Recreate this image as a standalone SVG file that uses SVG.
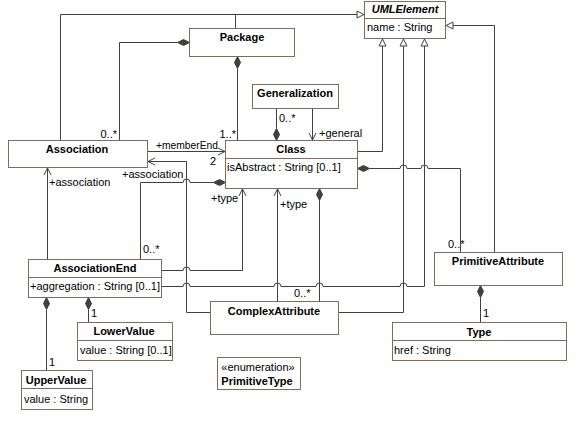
<svg xmlns="http://www.w3.org/2000/svg" width="580" height="430" viewBox="0 0 580 430">
<style>
.box{fill:#fff;stroke:#806c5a;stroke-width:1}
.div{stroke:#806c5a;stroke-width:1}
.t{font-family:"Liberation Sans",Arial,sans-serif;font-size:11px;fill:#000}
.b{font-weight:bold}
.c{text-anchor:middle}
.ln{fill:none;stroke:#404040;stroke-width:1}
.tri{fill:#fff;stroke:#404040;stroke-width:1}
.dia{fill:#404040;stroke:#404040;stroke-width:1}
.arr{fill:none;stroke:#404040;stroke-width:1}
</style>
<rect width="580" height="430" fill="#fff"/>
<g id="connectors">
  <path class="ln" d="M60.5,140.5 V14.5 H357"/>
  <path class="ln" d="M235.5,28.5 V14.5"/>
  <polygon class="tri" points="364,14.5 357,11 357,18"/>
  <path class="ln" d="M357.5,151.5 H382.5 V46"/>
  <polygon class="tri" points="382.5,39 379,46 386,46"/>
  <path class="ln" d="M338.5,312.5 H403.5 V46"/>
  <polygon class="tri" points="403.5,39 400,46 407,46"/>
  <path class="ln" d="M161.5,286.5 H183 a3.5,3.5 0 0 1 7,0 H274 a3.5,3.5 0 0 1 7,0 H316 a3.5,3.5 0 0 1 7,0 H400 a3.5,3.5 0 0 1 7,0 H424.5 V46"/>
  <polygon class="tri" points="424.5,39 421,46 428,46"/>
  <path class="ln" d="M494.5,252.5 V25.5 H453"/>
  <polygon class="tri" points="446,25.5 453,22 453,29"/>
  <path class="ln" d="M177.5,42.5 H119.5 V140.5"/>
  <polygon class="dia" points="189.5,42.5 183.5,39.5 177.5,42.5 183.5,45.5"/>
  <path class="ln" d="M237.5,68.5 V140.5"/>
  <polygon class="dia" points="237.5,56.5 234.5,62.5 237.5,68.5 240.5,62.5"/>
  <path class="ln" d="M276.5,108.5 V128.5"/>
  <polygon class="dia" points="276.5,140.5 273.5,134.5 276.5,128.5 279.5,134.5"/>
  <path class="ln" d="M312.5,108.5 V140"/>
  <polyline class="arr" points="309,133 312.5,140 316,133"/>
  <path class="ln" d="M369.5,168.5 H400 a3.5,3.5 0 0 1 7,0 H421 a3.5,3.5 0 0 1 7,0 H460.5 V252.5"/>
  <polygon class="dia" points="357.5,168.5 363.5,165.5 369.5,168.5 363.5,171.5"/>
  <path class="ln" d="M147.5,151.5 H225"/>
  <polyline class="arr" points="218,148 225,151.5 218,155"/>
  <path class="ln" d="M210.5,312.5 H186.5 V161.5 H148"/>
  <polyline class="arr" points="155,158 148,161.5 155,165"/>
  <path class="ln" d="M47.5,259.5 V168"/>
  <polyline class="arr" points="44,175 47.5,168 51,175"/>
  <path class="ln" d="M140.5,259.5 V182.5 H183 a3.5,3.5 0 0 1 7,0 H213.5"/>
  <polygon class="dia" points="225.5,182.5 219.5,179.5 213.5,182.5 219.5,185.5"/>
  <path class="ln" d="M161.5,270.5 H183 a3.5,3.5 0 0 1 7,0 H242.5 V189"/>
  <polyline class="arr" points="239,196 242.5,189 246,196"/>
  <path class="ln" d="M277.5,301.5 V189"/>
  <polyline class="arr" points="274,196 277.5,189 281,196"/>
  <path class="ln" d="M319.5,200.5 V301.5"/>
  <polygon class="dia" points="319.5,188.5 316.5,194.5 319.5,200.5 322.5,194.5"/>
  <path class="ln" d="M480.5,297.5 V322.5"/>
  <polygon class="dia" points="480.5,285.5 477.5,291.5 480.5,297.5 483.5,291.5"/>
  <path class="ln" d="M88.5,309.5 V322.5"/>
  <polygon class="dia" points="88.5,297.5 85.5,303.5 88.5,309.5 91.5,303.5"/>
  <path class="ln" d="M46.5,309.5 V370.5"/>
  <polygon class="dia" points="46.5,297.5 43.5,303.5 46.5,309.5 49.5,303.5"/>
  <text class="t" x="117" y="138" text-anchor="end">0..*</text>
  <text class="t" x="236" y="138" text-anchor="end">1..*</text>
  <text class="t" x="279" y="122">0..*</text>
  <text class="t" x="319" y="137">+general</text>
  <text class="t" x="156" y="149" textLength="62" lengthAdjust="spacingAndGlyphs">+memberEnd</text>
  <text class="t" x="210" y="165">2</text>
  <text class="t" x="122" y="178">+association</text>
  <text class="t" x="49" y="186">+association</text>
  <text class="t" x="211" y="202">+type</text>
  <text class="t" x="143" y="253">0..*</text>
  <text class="t" x="280" y="208">+type</text>
  <text class="t" x="294" y="297">0..*</text>
  <text class="t" x="448" y="248">0..*</text>
  <text class="t" x="483" y="317">1</text>
  <text class="t" x="91" y="317">1</text>
  <text class="t" x="49" y="366">1</text>
</g>
<g id="UMLElement">
  <rect class="box" x="364.5" y="1.5" width="81" height="37"/>
  <line class="div" x1="364.5" y1="18.5" x2="445.5" y2="18.5"/>
  <text class="t b c" x="405" y="13" font-style="italic">UMLElement</text>
  <text class="t" x="367" y="31">name : String</text>
</g>
<g id="Package">
  <rect class="box" x="189.5" y="28.5" width="105" height="28"/>
  <text class="t b c" x="242" y="41">Package</text>
</g>
<g id="Generalization">
  <rect class="box" x="252.5" y="84.5" width="86" height="24"/>
  <text class="t b c" x="295" y="97">Generalization</text>
</g>
<g id="Association">
  <rect class="box" x="8.5" y="140.5" width="139" height="27"/>
  <text class="t b c" x="77" y="153">Association</text>
</g>
<g id="Class">
  <rect class="box" x="225.5" y="140.5" width="132" height="48"/>
  <line class="div" x1="225.5" y1="158.5" x2="357.5" y2="158.5"/>
  <text class="t b c" x="291" y="153">Class</text>
  <text class="t" x="227" y="171">isAbstract : String [0..1]</text>
</g>
<g id="AssociationEnd">
  <rect class="box" x="28.5" y="259.5" width="133" height="38"/>
  <line class="div" x1="28.5" y1="277.5" x2="161.5" y2="277.5"/>
  <text class="t b c" x="95" y="272">AssociationEnd</text>
  <text class="t" x="30" y="290">+aggregation : String [0..1]</text>
</g>
<g id="ComplexAttribute">
  <rect class="box" x="210.5" y="301.5" width="128" height="33"/>
  <text class="t b c" x="274" y="315">ComplexAttribute</text>
</g>
<g id="PrimitiveAttribute">
  <rect class="box" x="434.5" y="252.5" width="128" height="33"/>
  <text class="t b c" x="498" y="265">PrimitiveAttribute</text>
</g>
<g id="Type">
  <rect class="box" x="392.5" y="322.5" width="174" height="38"/>
  <line class="div" x1="392.5" y1="340.5" x2="566.5" y2="340.5"/>
  <text class="t b c" x="479" y="335.5">Type</text>
  <text class="t" x="394" y="354">href : String</text>
</g>
<g id="LowerValue">
  <rect class="box" x="77.5" y="322.5" width="95" height="38"/>
  <line class="div" x1="77.5" y1="340.5" x2="172.5" y2="340.5"/>
  <text class="t b c" x="124" y="335">LowerValue</text>
  <text class="t" x="80" y="354">value : String [0..1]</text>
</g>
<g id="UpperValue">
  <rect class="box" x="21.5" y="370.5" width="71" height="39"/>
  <line class="div" x1="21.5" y1="388.5" x2="92.5" y2="388.5"/>
  <text class="t b c" x="56" y="384">UpperValue</text>
  <text class="t" x="24" y="402.5">value : String</text>
</g>
<g id="PrimitiveType">
  <rect class="box" x="217.5" y="357.5" width="83" height="32"/>
  <text class="t c" x="258" y="370.5" font-size="10.5px">«enumeration»</text>
  <text class="t b c" x="257" y="385">PrimitiveType</text>
</g>
</svg>
